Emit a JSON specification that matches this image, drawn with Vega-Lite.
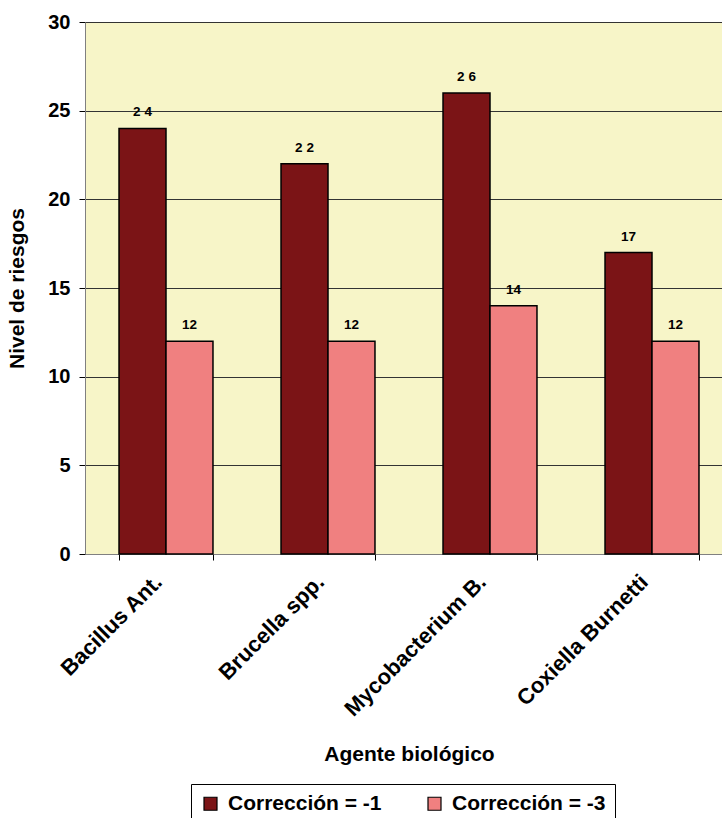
{
  "$schema": "https://vega.github.io/schema/vega-lite/v6.json",
  "autosize": "none",
  "padding": {"left": 85, "top": 22, "right": 0, "bottom": 264},
  "width": 648,
  "height": 532,
  "background": "white",
  "data": {
    "values": [
      {"agente": "Bacillus Ant.", "serie": "Corrección = -1", "nivel": 24, "etiqueta": "2 4"},
      {"agente": "Bacillus Ant.", "serie": "Corrección = -3", "nivel": 12, "etiqueta": "12"},
      {"agente": "Brucella spp.", "serie": "Corrección = -1", "nivel": 22, "etiqueta": "2 2"},
      {"agente": "Brucella spp.", "serie": "Corrección = -3", "nivel": 12, "etiqueta": "12"},
      {"agente": "Mycobacterium B.", "serie": "Corrección = -1", "nivel": 26, "etiqueta": "2 6"},
      {"agente": "Mycobacterium B.", "serie": "Corrección = -3", "nivel": 14, "etiqueta": "14"},
      {"agente": "Coxiella Burnetti", "serie": "Corrección = -1", "nivel": 17, "etiqueta": "17"},
      {"agente": "Coxiella Burnetti", "serie": "Corrección = -3", "nivel": 12, "etiqueta": "12"}
    ]
  },
  "encoding": {
    "x": {
      "field": "agente", "type": "nominal", "sort": null,
      "scale": {"paddingInner": 0.42, "paddingOuter": 0.21},
      "title": "Agente biológico",
      "axis": {
        "labelAngle": -45, "labelAlign": "right", "labelBaseline": "middle",
        "bandPosition": 0, "tickBand": "extent",
        "labelPadding": 18, "labelOffset": -8, "labelLimit": 400, "titlePadding": 24,
        "domainColor": "#808080", "tickColor": "#000000", "tickSize": 6,
        "labelFontSize": 22
      }
    },
    "xOffset": {"field": "serie", "type": "nominal"},
    "y": {
      "field": "nivel", "type": "quantitative",
      "scale": {"domain": [0, 30]},
      "title": "Nivel de riesgos",
      "axis": {
        "values": [0, 5, 10, 15, 20, 25, 30], "grid": true,
        "gridColor": "#333333", "gridWidth": 1,
        "domainColor": "#808080", "tickColor": "#000000", "tickSize": 6,
        "labelPadding": 9, "titlePadding": 20, "labelFontSize": 20
      }
    }
  },
  "layer": [
    {
      "mark": {"type": "bar", "stroke": "#000000", "strokeWidth": 1.5},
      "encoding": {
        "color": {
          "field": "serie", "type": "nominal", "title": null,
          "scale": {"range": ["#7B1416", "#F08080"]},
          "legend": {
            "orient": "none", "legendX": 106, "legendY": 762,
            "direction": "horizontal",
            "strokeColor": "#000000", "padding": 9,
            "symbolType": "square", "symbolSize": 169,
            "symbolStrokeColor": "#000000", "symbolStrokeWidth": 1.2,
            "labelFontSize": 21, "labelFontWeight": "bold", "labelFont": "Liberation Sans",
            "labelColor": "#000000",
            "columnPadding": 42, "labelOffset": 7
          }
        }
      }
    },
    {
      "mark": {"type": "text", "dy": -12, "baseline": "alphabetic", "fontSize": 13.5, "fontWeight": "bold", "font": "Liberation Sans"},
      "encoding": {"text": {"field": "etiqueta"}}
    }
  ],
  "config": {
    "view": {"fill": "#F7F5C8", "stroke": null},
    "axis": {
      "labelFont": "Liberation Sans", "labelFontWeight": "bold", "labelColor": "#000000",
      "titleFont": "Liberation Sans", "titleFontSize": 21, "titleFontWeight": "bold", "titleColor": "#000000"
    }
  }
}
